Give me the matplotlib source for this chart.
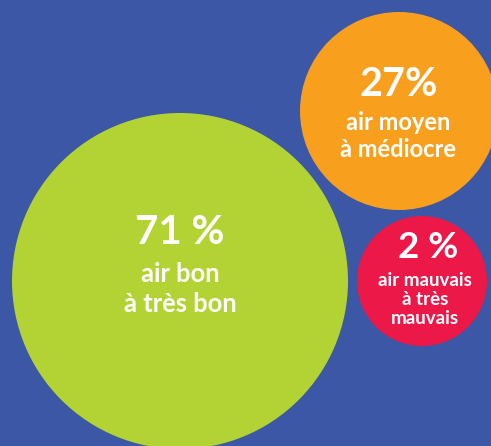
import matplotlib
matplotlib.use("Agg")
import matplotlib.pyplot as plt
from matplotlib.patches import Circle

# Data
categories = ["air bon\nà très bon", "air moyen\nà médiocre", "air mauvais\nà très\nmauvais"]
values = [71, 27, 2]
value_labels = ["71 %", "27%", "2 %"]
colors = ["#b3d334", "#f99f1e", "#ec1848"]

# Layout (pixel coordinates, y downward)
centers = [(180, 281), (399, 111), (422, 281)]
radii = [168, 99, 65]
pct_pos = [(180, 232), (399, 84), (428, 248)]
pct_size = [29, 28.5, 26.5]
lab_pos = [(180, 289), (398, 136), (425, 299.5)]
lab_size = [18.4, 17, 13.5]
lab_spacing = [1.25, 1.19, 1.15]

BG = "#3b57a5"
W, H = 491, 446
fig = plt.figure(figsize=(W / 100, H / 100), dpi=100, facecolor=BG)
ax = fig.add_axes([0, 0, 1, 1])
ax.set_facecolor(BG)
ax.set_xlim(0, W)
ax.set_ylim(H, 0)
ax.set_aspect("equal")
ax.axis("off")

for i, v in enumerate(values):
    ax.add_patch(Circle(centers[i], radii[i], facecolor=colors[i], edgecolor="none"))
    ax.text(pct_pos[i][0], pct_pos[i][1], value_labels[i], ha="center", va="center",
            color="white", fontsize=pct_size[i], fontweight="bold", family=["Lato", "DejaVu Sans"])
    ax.text(lab_pos[i][0], lab_pos[i][1], categories[i], ha="center", va="center",
            color="white", fontsize=lab_size[i], fontweight="bold", family=["Lato", "DejaVu Sans"],
            linespacing=lab_spacing[i])

fig.savefig("out.png", dpi=100, facecolor=BG)
